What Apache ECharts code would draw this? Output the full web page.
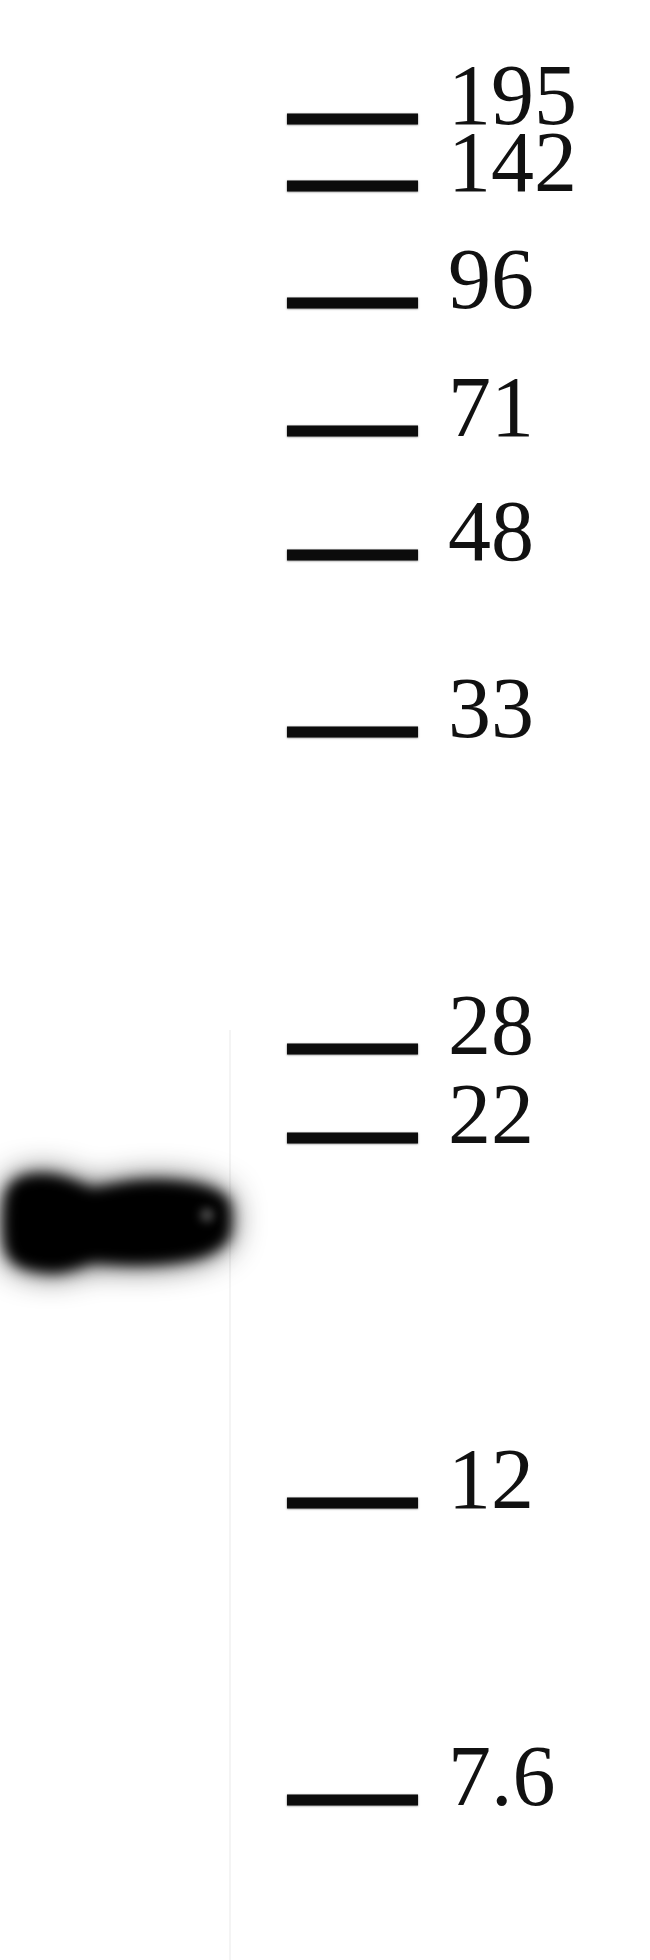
<!DOCTYPE html>
<html><head><meta charset="utf-8">
<script src="https://cdn.jsdelivr.net/npm/echarts@6/dist/echarts.min.js"></script>
<style>html,body{margin:0;padding:0;background:#fff}#c{width:650px;height:1960px}</style>
</head><body><div id="c"></div>
<script>
// Molecular-weight ladder (kDa) and its migration distance from the top of the gel (gel units)
const ladderLabels = ['195', '142', '96', '71', '48', '33', '28', '22', '12', '7.6'];
const ladderKDa = [195, 142, 96, 71, 48, 33, 28, 22, 12, 7.6];
const ladderMigration = [119, 186, 303, 431, 555, 732, 1049, 1138, 1503, 1800];

// Detected band in the sample lane: outline sampled across the lane width
const bandLanePos = [5, 10, 20, 35, 55, 75, 92, 110, 135, 160, 185, 205, 220, 229];
const bandTop = [1200, 1186, 1178, 1175, 1176, 1182, 1189, 1186, 1182, 1181, 1183, 1187, 1193, 1202];
const bandBottom = [1245, 1258, 1266, 1270, 1272, 1268, 1262, 1263, 1264, 1263, 1260, 1255, 1247, 1236];

// Faint smear above the band (same lane)
const smearLanePos = [5, 60, 120, 180, 210];
const smearTop = [1080, 1070, 1075, 1085, 1095];
const smearBottom = [1185, 1185, 1185, 1185, 1185];

const OFF = 3000;
const chart = echarts.init(document.getElementById('c'), null, { renderer: 'canvas' });

function outline(api, xs, tops, bots, shift) {
  const t = xs.map((x, i) => api.coord([x, tops[i]]));
  const b = xs.map((x, i) => api.coord([x, bots[i]])).reverse();
  return t.concat(b).map(p => [p[0] - shift, p[1]]);
}

chart.setOption({
  animation: false,
  backgroundColor: '#ffffff',
  grid: { left: 0, right: 0, top: 0, bottom: 0 },
  xAxis: { type: 'value', min: 0, max: 650, show: false },
  yAxis: { type: 'value', min: 0, max: 1960, inverse: true, show: false },
  series: [
    {
      type: 'custom', name: 'smear', silent: true,
      data: [[0, 0]],
      renderItem: (params, api) => {
        const lx = api.coord([230, 0])[0];
        return {
          type: 'group',
          children: [
            { type: 'polygon', shape: { points: outline(api, smearLanePos, smearTop, smearBottom, OFF), smooth: 0.4 },
              style: { fill: 'rgba(0,0,0,0.05)', shadowBlur: 60, shadowColor: 'rgba(0,0,0,0.05)', shadowOffsetX: OFF } },
            { type: 'line', shape: { x1: lx, y1: api.coord([0, 1030])[1], x2: lx, y2: api.coord([0, 1960])[1] },
              style: { stroke: 'rgba(0,0,0,0.045)', lineWidth: 2 } },
            { type: 'rect', shape: { x: api.coord([0, 0])[0] - OFF, y: api.coord([0, 200])[1], width: 5, height: 380 },
              style: { fill: 'rgba(0,0,0,0.07)', shadowBlur: 8, shadowColor: 'rgba(0,0,0,0.07)', shadowOffsetX: OFF } }
          ]
        };
      }
    },
    {
      type: 'custom', name: 'band', silent: true,
      data: [[0, 0]],
      renderItem: (params, api) => {
        const pts = outline(api, bandLanePos, bandTop, bandBottom, OFF);
        const spot = api.coord([207, 1215]);
        return {
          type: 'group',
          children: [
            { type: 'polygon', shape: { points: pts, smooth: 0.3 },
              style: { fill: '#000', shadowBlur: 32, shadowColor: 'rgba(0,0,0,0.85)', shadowOffsetX: OFF } },
            { type: 'polygon', shape: { points: pts, smooth: 0.3 },
              style: { fill: '#000', shadowBlur: 14, shadowColor: '#000', shadowOffsetX: OFF } },
            { type: 'circle', shape: { cx: spot[0] - OFF, cy: spot[1], r: 7 },
              style: { fill: '#fff', shadowBlur: 10, shadowColor: 'rgba(255,255,255,0.3)', shadowOffsetX: OFF } }
          ]
        };
      }
    },
    {
      type: 'custom', name: 'ladder', silent: true,
      data: ladderMigration.map((m, i) => [ladderKDa[i], m]),
      encode: { y: 1 },
      renderItem: (params, api) => {
        const m = api.value(1);
        const p1 = api.coord([287, m]);
        const p2 = api.coord([418, m]);
        const lp = api.coord([448, m]);
        return {
          type: 'group',
          children: [
            { type: 'line', shape: { x1: p1[0], y1: p1[1], x2: p2[0], y2: p2[1] },
              style: { stroke: '#0c0c0c', lineWidth: 11, lineCap: 'butt', shadowBlur: 2, shadowColor: 'rgba(0,0,0,0.5)' } },
            { type: 'text', x: lp[0], y: lp[1] - 18,
              style: { text: ladderLabels[params.dataIndex], fill: '#111', font: '86px "Liberation Serif", "DejaVu Serif", serif',
                       align: 'left', verticalAlign: 'middle' } }
          ]
        };
      }
    }
  ]
});
</script></body></html>
